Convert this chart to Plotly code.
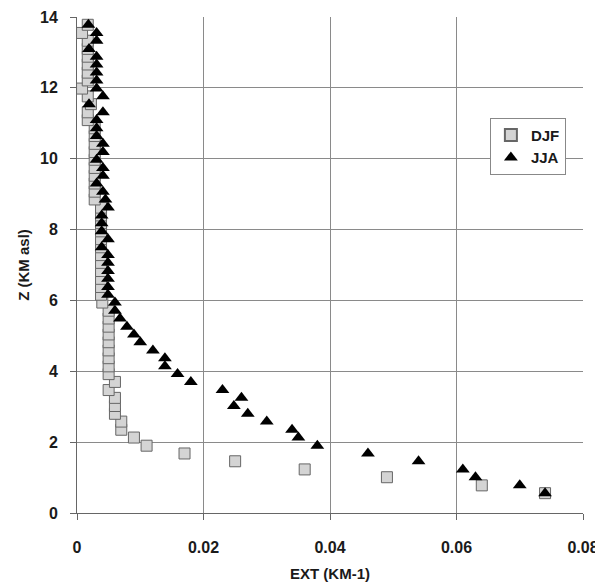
import plotly.graph_objects as go

# Height levels (km asl)
heights = [0.56, 0.78, 1.01, 1.23, 1.46, 1.68, 1.90, 2.13, 2.35, 2.58,
           2.80, 3.02, 3.25, 3.47, 3.70, 3.92, 4.14, 4.37, 4.59, 4.82,
           5.04, 5.26, 5.49, 5.71, 5.94, 6.16, 6.38, 6.61, 6.83, 7.06,
           7.28, 7.50, 7.73, 7.95, 8.18, 8.40, 8.62, 8.85, 9.07, 9.30,
           9.52, 9.74, 9.97, 10.19, 10.42, 10.64, 10.86, 11.09, 11.31, 11.54,
           11.76, 11.98, 12.21, 12.43, 12.66, 12.88, 13.10, 13.33, 13.55, 13.78]

# DJF extinction (km-1)
djf_ext = [0.074, 0.064, 0.049, 0.036, 0.025, 0.017, 0.011, 0.009, 0.007, 0.007,
           0.006, 0.006, 0.006, 0.005, 0.006, 0.005, 0.005, 0.005, 0.005, 0.005,
           0.005, 0.005, 0.005, 0.005, 0.004, 0.0038, 0.0038, 0.0038, 0.0038, 0.0038,
           0.0038, 0.0038, 0.0038, 0.0038, 0.0038, 0.0038, 0.0038, 0.0028, 0.0028, 0.0028,
           0.0028, 0.0028, 0.0028, 0.0028, 0.0028, 0.0028, 0.0028, 0.0017, 0.0017, 0.0022,
           0.0017, 0.0008, 0.0017, 0.0017, 0.0017, 0.0017, 0.0017, 0.0017, 0.0008, 0.0017]

# JJA extinction (km-1)
jja_ext = [0.074, 0.070, 0.063, 0.061, 0.054, 0.046, 0.038, 0.035, 0.034, 0.030,
           0.027, 0.0248, 0.026, 0.023, 0.018, 0.0159, 0.0139, 0.0139, 0.012, 0.010,
           0.009, 0.0079, 0.0068, 0.006, 0.006, 0.0049, 0.0049, 0.0049, 0.0049, 0.0049,
           0.0049, 0.0039, 0.0049, 0.0039, 0.0039, 0.0039, 0.0049, 0.0045, 0.0041, 0.0031,
           0.0041, 0.0041, 0.0031, 0.0041, 0.0041, 0.0031, 0.0031, 0.0031, 0.0041, 0.0019,
           0.0041, 0.0031, 0.0031, 0.0031, 0.0031, 0.0031, 0.0019, 0.0031, 0.0031, 0.0018]

x_ticks = [0, 0.02, 0.04, 0.06, 0.08]
x_labels = ["0", "0.02", "0.04", "0.06", "0.08"]
y_ticks = [0, 2, 4, 6, 8, 10, 12, 14]

FONT = "Liberation Sans, Arial, sans-serif"
TXT = "#1a1a1a"

fig = go.Figure()
fig.add_trace(go.Scatter(
    x=djf_ext, y=heights, mode="markers", name="DJF",
    marker=dict(symbol="square", size=11, color="#d4d4d4",
                line=dict(color="#666666", width=1)),
    cliponaxis=False,
))
fig.add_trace(go.Scatter(
    x=jja_ext, y=heights, mode="markers", name="JJA",
    marker=dict(symbol="triangle-up", size=12, color="#000000",
                line=dict(color="#000000", width=0)),
    cliponaxis=False,
))

# The page body adds an 8px margin, so the figure is drawn 8px smaller
fig.update_layout(
    width=595, height=575,
    margin=dict(l=69, r=20, t=9, b=70),
    paper_bgcolor="white", plot_bgcolor="white",
    font=dict(family=FONT, size=15, color=TXT),
    showlegend=True,
    legend=dict(
        x=0.816, y=0.797, xanchor="left", yanchor="top",
        bgcolor="white", bordercolor="#888888", borderwidth=1,
        font=dict(family=FONT, size=15, color=TXT, weight="bold"),
        itemsizing="constant", tracegroupgap=0,
    ),
    xaxis=dict(
        range=[0, 0.08], tickvals=x_ticks, ticktext=x_labels,
        automargin=False,
        showgrid=True, gridcolor="#8a8a8a", gridwidth=1,
        showline=True, linecolor="#666666", linewidth=1,
        ticks="outside", ticklen=6, tickcolor="#666666",
        ticklabelstandoff=14,
        tickfont=dict(family=FONT, size=16, color=TXT, weight="bold"),
        title=dict(text="EXT (KM-1)", standoff=13,
                   font=dict(family=FONT, size=15, color=TXT, weight="bold")),
        zeroline=False,
    ),
    yaxis=dict(
        range=[0, 14], tickvals=y_ticks,
        automargin=False,
        showgrid=True, gridcolor="#8a8a8a", gridwidth=1,
        showline=True, linecolor="#666666", linewidth=1,
        ticks="outside", ticklen=6, tickcolor="#666666",
        ticklabelstandoff=9,
        tickfont=dict(family=FONT, size=16, color=TXT, weight="bold"),
        title=dict(text="Z (KM asl)", standoff=6,
                   font=dict(family=FONT, size=15, color=TXT, weight="bold")),
        zeroline=False,
    ),
)

fig.write_html("out.html")
